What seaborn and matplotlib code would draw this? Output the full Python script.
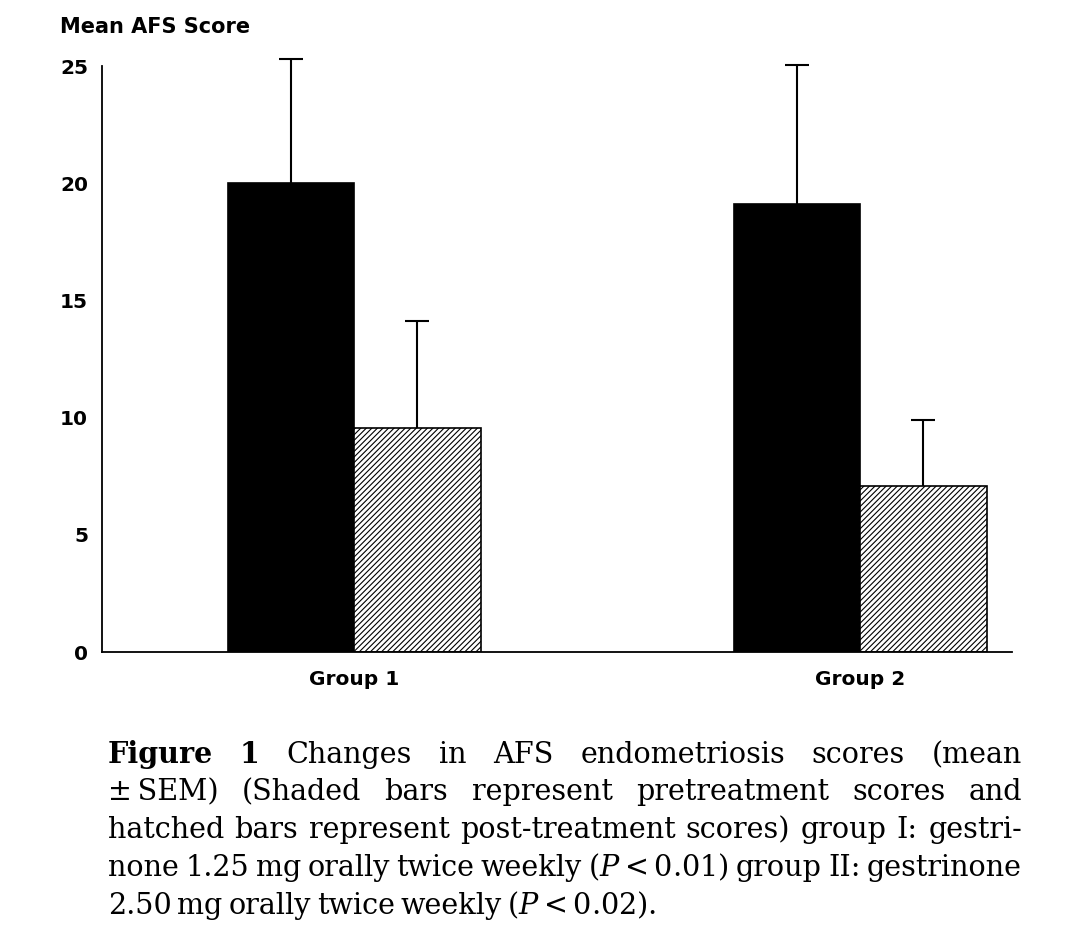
import matplotlib
matplotlib.use('Agg')
import numpy as np
import pandas as pd
import seaborn as sns
import matplotlib.pyplot as plt

# values (mean +/- SEM)
groups = ['Group 1', 'Group 2']
phases = ['Pretreatment', 'Post-treatment']
pre_mean = [20.0, 19.1]
pre_sem = [5.3, 5.95]
post_mean = [9.55, 7.1]
post_sem = [4.55, 2.8]
yticks = [0, 5, 10, 15, 20, 25]

caption_lines = [
    "Figure 1 Changes in AFS endometriosis scores (mean",
    "\u00b1\u2009SEM) (Shaded bars represent pretreatment scores and",
    "hatched bars represent post-treatment scores) group I: gestri-",
    "none 1.25 mg orally twice weekly ($P$\u2009<\u20090.01) group II: gestrinone",
    "2.50 mg orally twice weekly ($P$\u2009<\u20090.02).",
]

df = pd.DataFrame({
    'group': groups * 2,
    'phase': [phases[0]] * 2 + [phases[1]] * 2,
    'score': pre_mean + post_mean,
})

sns.set_style('white')
plt.rcParams['hatch.linewidth'] = 0.8
plt.rcParams['mathtext.fontset'] = 'dejavuserif'
plt.rcParams['text.color'] = 'black'

W, H = 1072, 948
fig = plt.figure(figsize=(W / 100, H / 100), dpi=100)
ax = fig.add_axes([102 / W, 1 - 652 / H, 910 / W, 586 / H])

sns.barplot(data=df, x='group', y='score', hue='phase', hue_order=phases,
            palette={phases[0]: 'black', phases[1]: 'white'},
            width=0.5, edgecolor='black', linewidth=1.2, errorbar=None,
            legend=False, ax=ax)

for bar in ax.containers[1]:
    bar.set_hatch('//////')

# upper-only error bars
for cont, sems in zip(ax.containers, [pre_sem, post_sem]):
    xs = [b.get_x() + b.get_width() / 2 for b in cont]
    ys = [b.get_height() for b in cont]
    eb = ax.errorbar(xs, ys, yerr=[np.zeros(len(sems)), sems], fmt='none',
                     ecolor='black', elinewidth=1.5, capsize=8.3, capthick=1.5)
    for cap in eb.lines[1]:
        cap.set_clip_on(False)
        if np.allclose(cap.get_ydata(), ys):
            cap.set_visible(False)
    for bl in eb.lines[2]:
        bl.set_clip_on(False)

ax.set_ylim(0, 25)
ax.set_xlim(-0.498, 1.30)
ax.set_yticks(yticks)
ax.set_xlabel('')
ax.set_ylabel('')
sns.despine(ax=ax)
for s in ['left', 'bottom']:
    ax.spines[s].set_linewidth(1.3)
    ax.spines[s].set_color('black')
ax.tick_params(axis='y', length=0, pad=10, labelsize=14.5, labelcolor='black')
ax.tick_params(axis='x', length=0, pad=13, labelsize=14.5, labelcolor='black')
for lab in ax.get_xticklabels() + ax.get_yticklabels():
    lab.set_fontweight('bold')
    lab.set_family('DejaVu Sans')

fig.text(60 / W, 1 - 33 / H, 'Mean AFS Score', fontsize=15, fontweight='bold',
         family='DejaVu Sans', va='baseline', ha='left', color='black')

# justified caption
renderer = fig.canvas.get_renderer()
left, right = 108, 1022
base_size = 24
baselines = [763, 800, 838, 876, 914]


def make_words(line, size, li):
    arts = []
    for wi, w in enumerate(line.split(' ')):
        bold = (li == 0 and wi < 2)
        t = fig.text(0, 0, w, fontsize=size, family='DejaVu Serif',
                     fontweight='bold' if bold else 'normal',
                     va='baseline', ha='left', color='black')
        arts.append(t)
    return arts


def widths(arts):
    return [a.get_window_extent(renderer).width for a in arts]


# pick a size so the widest full line fits
space_em = 0.2
probe = [make_words(l, base_size, i) for i, l in enumerate(caption_lines)]
space = base_size * 100 / 72 * space_em
natural = [sum(widths(a)) + space * (len(a) - 1) for a in probe]
for a in probe:
    for t in a:
        t.remove()
size = base_size * min(1.0, (right - left) / max(natural[:-1]) * 0.995)
space = size * 100 / 72 * space_em

for li, line in enumerate(caption_lines):
    arts = make_words(line, size, li)
    ws = widths(arts)
    if li < len(caption_lines) - 1 and len(arts) > 1:
        gap = (right - left - sum(ws)) / (len(arts) - 1)
    else:
        gap = space
    x = left
    for t, w in zip(arts, ws):
        t.set_position((x / W, 1 - baselines[li] / H))
        x += w + gap

fig.savefig('out.png', dpi=100)
